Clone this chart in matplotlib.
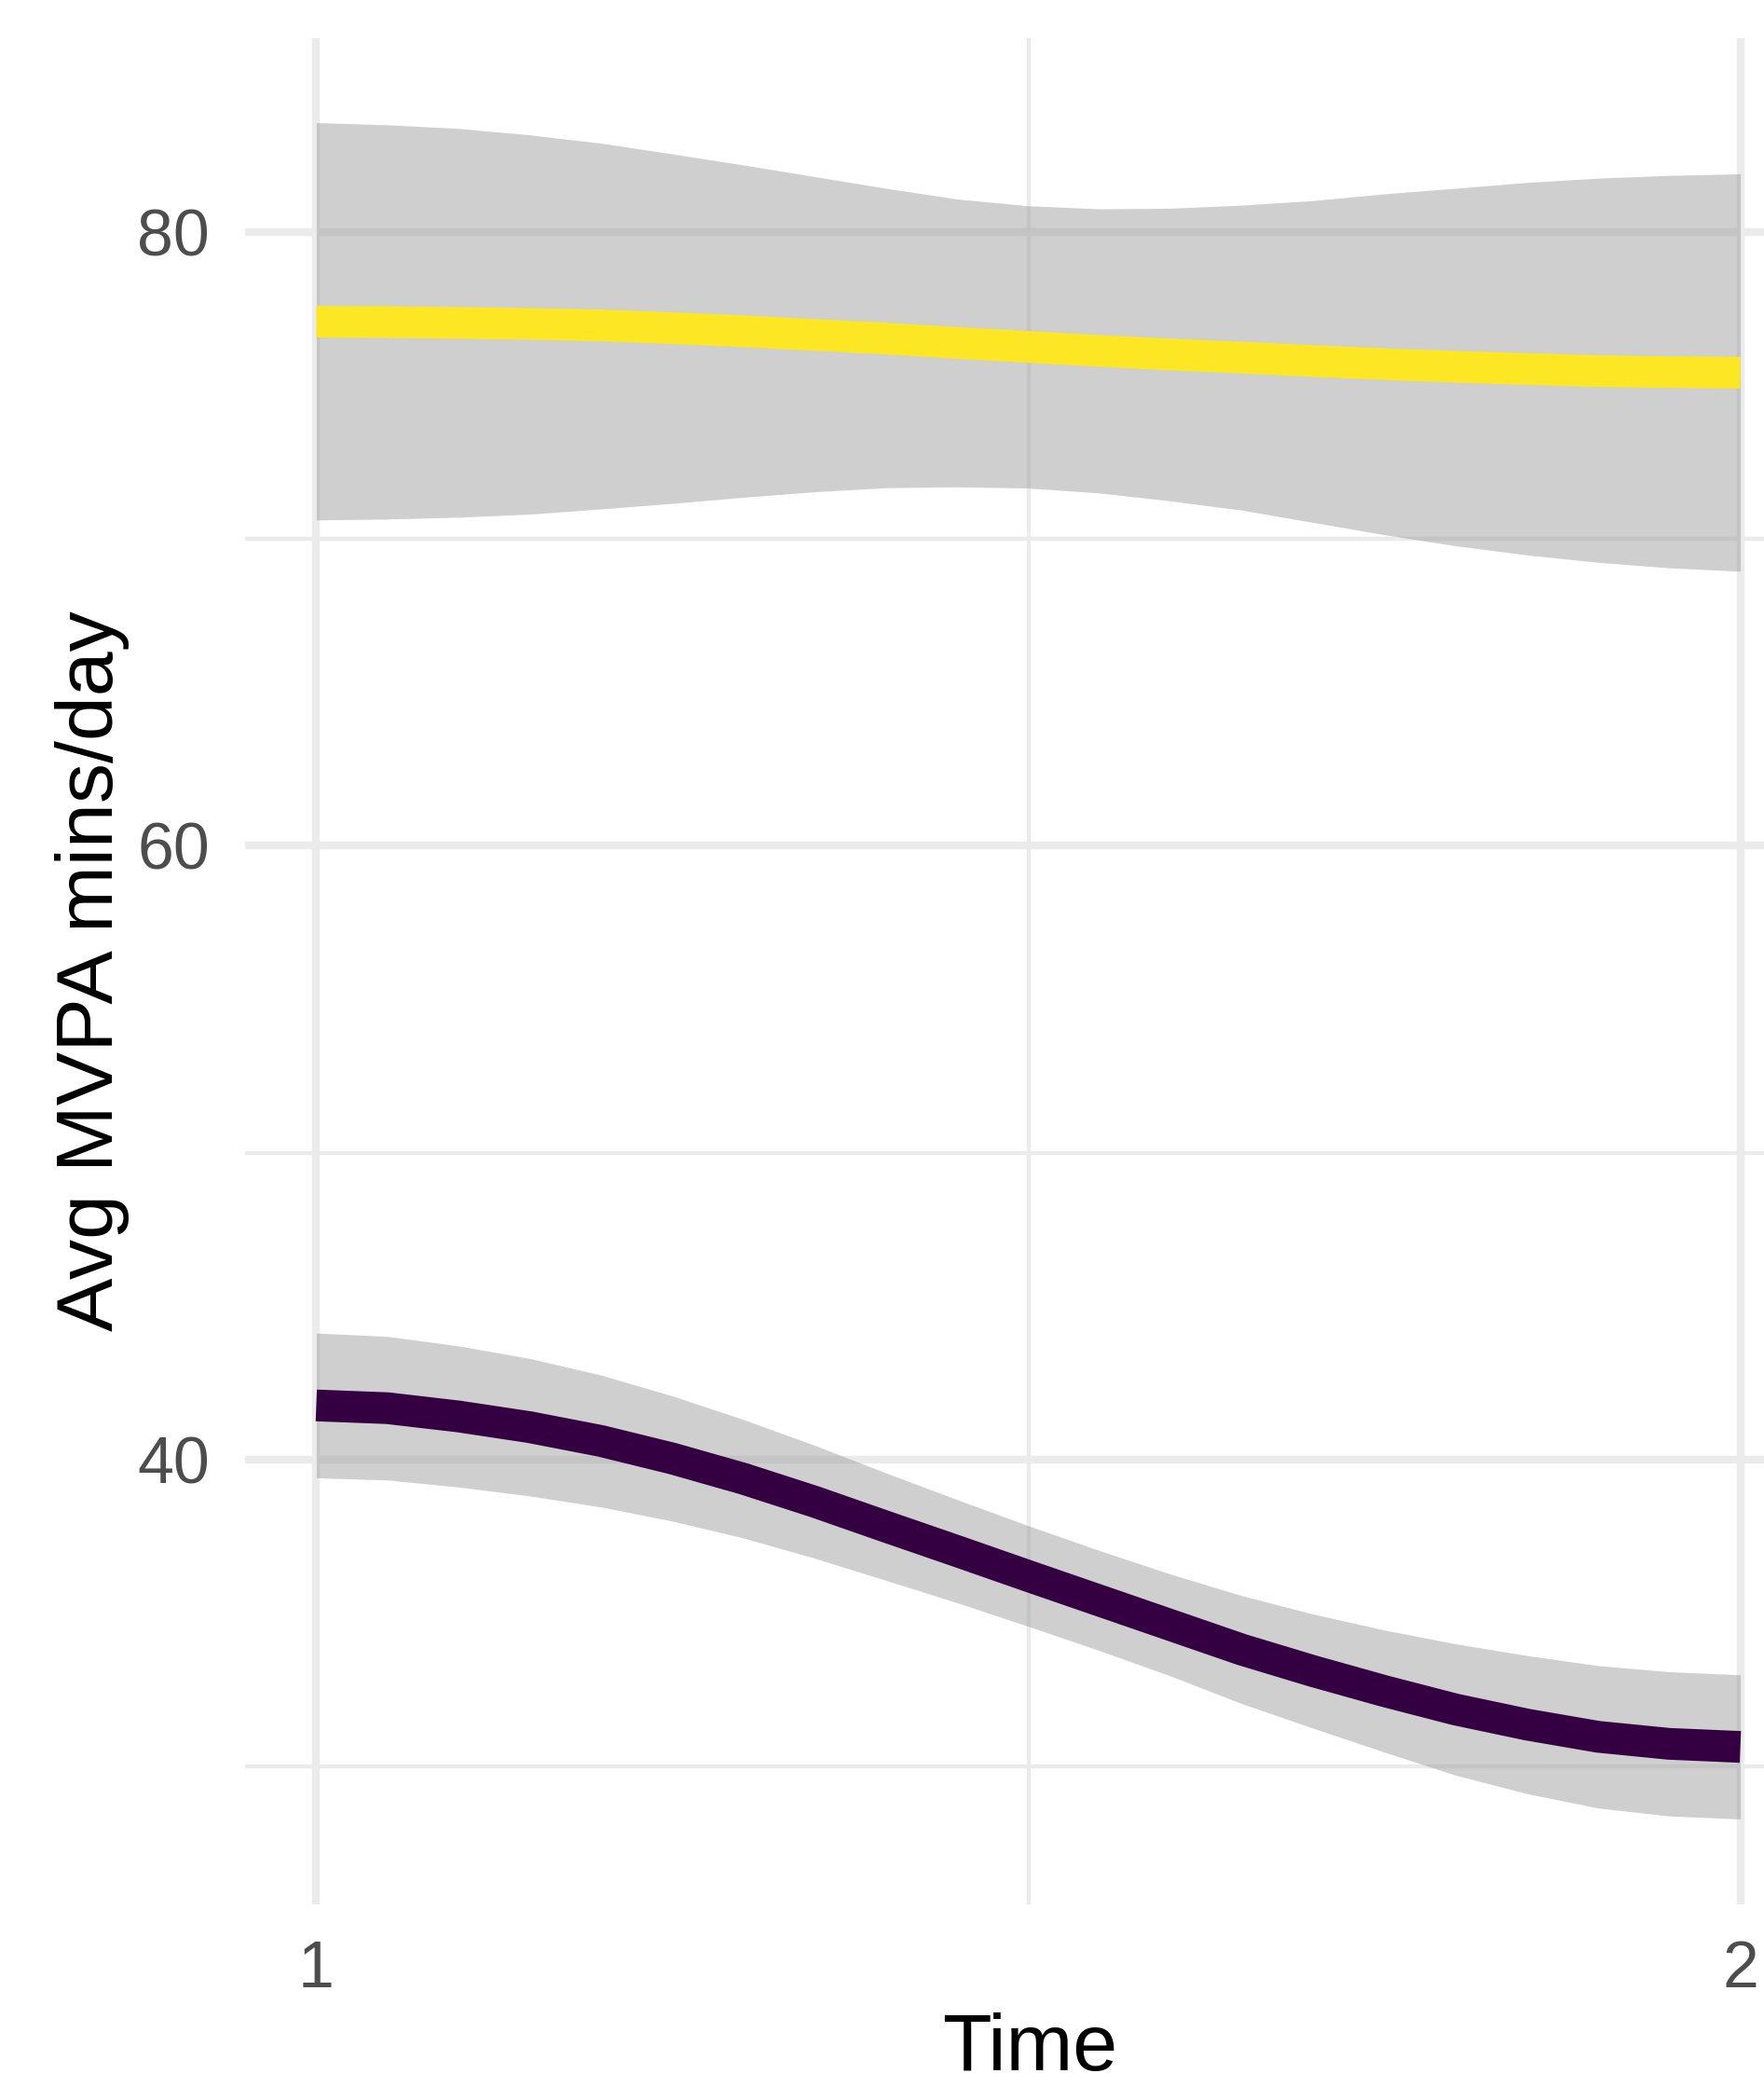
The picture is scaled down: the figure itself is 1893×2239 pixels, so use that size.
import matplotlib
matplotlib.use("Agg")
import matplotlib.pyplot as plt

plt.rcParams["font.family"] = ["Liberation Sans", "DejaVu Sans"]

# ---- data ----
time = [1.00, 1.05, 1.10, 1.15, 1.20, 1.25, 1.30, 1.35, 1.40, 1.45, 1.50,
        1.55, 1.60, 1.65, 1.70, 1.75, 1.80, 1.85, 1.90, 1.95, 2.00]

high_fit = [77.08, 77.07, 77.04, 77.01, 76.96, 76.87, 76.77, 76.65, 76.53, 76.39, 76.26,
            76.13, 76.01, 75.91, 75.80, 75.70, 75.61, 75.54, 75.47, 75.44, 75.42]
high_upper = [83.57, 83.50, 83.38, 83.17, 82.90, 82.55, 82.19, 81.81, 81.43, 81.08, 80.86,
              80.76, 80.78, 80.88, 81.03, 81.25, 81.43, 81.62, 81.76, 81.85, 81.90]
high_lower = [70.62, 70.65, 70.71, 70.81, 70.98, 71.16, 71.36, 71.54, 71.67, 71.70, 71.66,
              71.50, 71.24, 70.94, 70.54, 70.14, 69.78, 69.48, 69.24, 69.06, 68.95]

low_fit = [41.76, 41.67, 41.40, 41.05, 40.60, 40.03, 39.37, 38.62, 37.81, 37.01, 36.20,
           35.40, 34.60, 33.80, 33.10, 32.45, 31.85, 31.36, 30.96, 30.73, 30.63]
low_upper = [44.12, 44.01, 43.70, 43.29, 42.75, 42.07, 41.30, 40.46, 39.56, 38.69, 37.84,
             37.03, 36.26, 35.56, 34.96, 34.44, 33.99, 33.61, 33.28, 33.08, 32.98]
low_lower = [39.40, 39.33, 39.10, 38.81, 38.45, 37.99, 37.44, 36.78, 36.06, 35.33, 34.56,
             33.77, 32.94, 32.04, 31.24, 30.46, 29.71, 29.11, 28.64, 28.38, 28.28]

x_major = [1, 2]
x_minor = [1.5]
x_tick_labels = ["1", "2"]
y_major = [40, 60, 80]
y_minor = [30, 50, 70]
y_tick_labels = ["40", "60", "80"]

x_title = "Time"
y_title = "Avg MVPA mins/day"

# ---- figure ----
W, H = 1893, 2239
fig = plt.figure(figsize=(W / 100, H / 100), dpi=100)
fig.patch.set_facecolor("white")
left, right, top, bottom = 263, 1944, 40.7, 2043
ax = fig.add_axes([left / W, 1 - bottom / H, (right - left) / W, (bottom - top) / H])
ax.set_facecolor("white")

band_color = "#999999"
ax.fill_between(time, high_lower, high_upper, color=band_color, alpha=0.47, lw=0, zorder=2)
ax.plot(time, high_fit, color="#FDE725", lw=24.5, solid_capstyle="butt",
        solid_joinstyle="round", zorder=3)
ax.fill_between(time, low_lower, low_upper, color=band_color, alpha=0.47, lw=0, zorder=2)
ax.plot(time, low_fit, color="#340042", lw=24.5, solid_capstyle="butt",
        solid_joinstyle="round", zorder=3)

ax.set_xlim(0.95, 2.05)
ax.set_ylim(25.50, 86.33)

ax.set_xticks(x_major)
ax.set_xticks(x_minor, minor=True)
ax.set_xticklabels(x_tick_labels)
ax.set_yticks(y_major)
ax.set_yticks(y_minor, minor=True)
ax.set_yticklabels(y_tick_labels)

ax.set_axisbelow(True)
ax.grid(which="major", color="#EBEBEB", lw=6.1)
ax.grid(which="minor", color="#EBEBEB", lw=3.1)
for s in ax.spines.values():
    s.set_visible(False)

ax.tick_params(which="both", length=0, labelsize=50.3, labelcolor="#4D4D4D")
ax.tick_params(axis="x", pad=27)
ax.tick_params(axis="y", pad=27.4)

ax.set_xlabel(x_title, fontsize=62, color="black")
ax.set_ylabel(y_title, fontsize=62, color="black")
ax.xaxis.set_label_coords((1105 - left) / (right - left), -(2221 - bottom) / (bottom - top))
ax.xaxis.label.set_va("baseline")
ax.yaxis.set_label_coords(-(left - 139) / (right - left), 0.5)

fig.savefig("out.png", dpi=100)
